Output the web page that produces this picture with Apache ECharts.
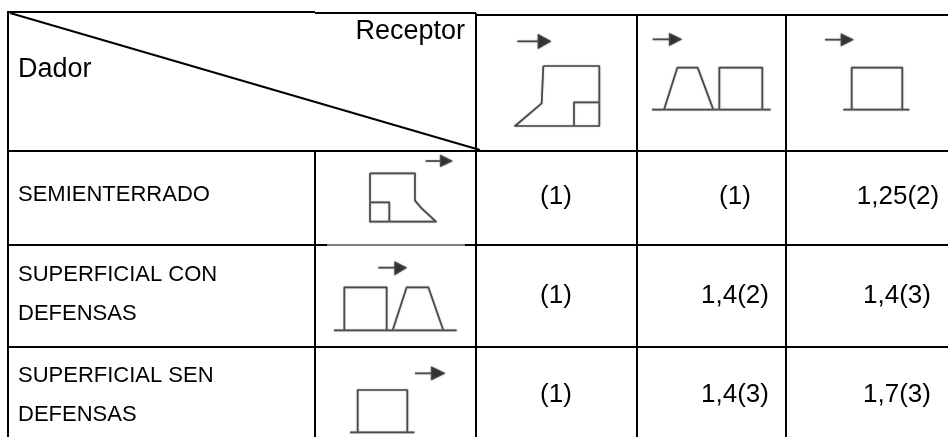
<!DOCTYPE html>
<html>
<head>
<meta charset="utf-8">
<style>
  html, body { margin: 0; padding: 0; background: #fff; }
  #chart { width: 948px; height: 437px; }
</style>
<script src="https://cdn.jsdelivr.net/npm/echarts@6/dist/echarts.min.js"></script>
</head>
<body>
<div id="chart"></div>
<script>
// table contents
const cornerLabels = ['Dador', 'Receptor']
const donors = ['SEMIENTERRADO', 'SUPERFICIAL CON\nDEFENSAS', 'SUPERFICIAL SEN\nDEFENSAS']
const semienterrado = ['(1)', '(1)', '1,25(2)']
const superficialCon = ['(1)', '1,4(2)', '1,4(3)']
const superficialSen = ['(1)', '1,4(3)', '1,7(3)']

// layout, in page pixels
const FONT = '"Liberation Sans", Arial, sans-serif'
const valueX = [[556, 556, 556], [735, 735, 735], [898, 897, 897]]
const rowY = [197, 296, 395]
const labelY = [195, 294, 395]

// icons are traced at 3x, with an offset
const icon = (ox, oy, pts) => pts.map(p => [ox + p[0] / 3, oy + p[1] / 3])
const line = (pts, w) => ({
  type: 'polyline',
  silent: true,
  shape: { points: pts },
  style: { fill: null, stroke: '#000', lineWidth: w, lineJoin: 'round' }
})
const sketch = pts => ({
  type: 'polyline',
  silent: true,
  shape: { points: pts },
  style: { fill: null, stroke: '#4a4a4a', lineWidth: 1.7, lineJoin: 'round', shadowBlur: 1.5, shadowColor: '#999' }
})
const arrow = (ox, oy, x0, x1, y, hx, tip, up, down) => [
  sketch(icon(ox, oy, [[x0, y], [x1, y]])),
  {
    type: 'polygon',
    silent: true,
    shape: { points: icon(ox, oy, [[hx, up], [tip, y], [hx, down]]) },
    style: { fill: '#333', stroke: '#333', lineWidth: 0.5, shadowBlur: 1.5, shadowColor: '#777' }
  }
]

const rules = [
  [[8, 12], [315, 12]], [[315, 13], [476, 13]], [[476, 15], [948, 15]],
  [[8, 11], [8, 437]], [[476, 13], [476, 150]], [[637, 15], [637, 437]], [[786, 15], [786, 437]],
  [[315, 151], [315, 437]], [[476, 151], [476, 437]],
  [[8, 151], [948, 151]], [[8, 245], [327, 245]], [[465, 245], [948, 245]], [[8, 347], [948, 347]],
  [[10, 13], [480, 150]]
].map(p => line(p, 2))
rules.push(line([[327, 245], [465, 245]], 1))

const drawings = [
  // first receptor column
  ...arrow(470, 0, 142, 205, 124, 204, 243, 103, 146),
  sketch(icon(470, 0, [[220, 198], [388, 198], [388, 378], [135, 378], [215, 310], [220, 198]])),
  sketch(icon(470, 0, [[312, 378], [312, 307], [388, 307]])),
  // second receptor column
  ...arrow(470, 0, 548, 600, 118, 598, 635, 100, 137),
  sketch(icon(470, 0, [[546, 329], [902, 329]])),
  sketch(icon(470, 0, [[582, 329], [622, 203], [683, 203], [730, 329]])),
  sketch(icon(470, 0, [[748, 329], [748, 203], [877, 203], [877, 329]])),
  // third receptor column
  ...arrow(470, 0, 1065, 1115, 119, 1113, 1150, 101, 138),
  sketch(icon(470, 0, [[1120, 329], [1318, 329]])),
  sketch(icon(470, 0, [[1145, 329], [1145, 203], [1297, 203], [1297, 329]])),
  // donor rows
  ...arrow(310, 150, 347, 392, 33, 391, 427, 15, 50),
  sketch(icon(310, 150, [[180, 70], [315, 70], [315, 152], [335, 175], [378, 215], [180, 215], [180, 70]])),
  sketch(icon(310, 150, [[180, 157], [238, 157], [238, 215]])),
  ...arrow(310, 150, 205, 255, 353, 254, 290, 335, 375),
  sketch(icon(310, 150, [[72, 541], [440, 541]])),
  sketch(icon(310, 150, [[103, 541], [103, 412], [230, 412], [230, 541]])),
  sketch(icon(310, 150, [[248, 541], [290, 412], [355, 412], [400, 541]])),
  ...arrow(310, 150, 315, 365, 670, 364, 405, 650, 690),
  sketch(icon(310, 150, [[120, 847], [313, 847]])),
  sketch(icon(310, 150, [[143, 847], [143, 720], [292, 720], [292, 847]]))
]

const headText = (text, x, y, align, size) => ({
  type: 'text',
  silent: true,
  style: { text, x, y, align, verticalAlign: 'middle', fill: '#000', font: size + 'px ' + FONT, lineHeight: 39 }
})

const valueRows = [semienterrado, superficialCon, superficialSen]
const cells = []
valueRows.forEach((vals, r) => vals.forEach((v, c) => cells.push([valueX[c][r], rowY[r], v])))

const chart = echarts.init(document.getElementById('chart'), null, { renderer: 'canvas' })
chart.setOption({
  animation: false,
  backgroundColor: '#fff',
  grid: { left: 0, right: 0, top: 0, bottom: 0 },
  xAxis: { type: 'value', min: 0, max: 948, show: false },
  yAxis: { type: 'value', min: 0, max: 437, inverse: true, show: false },
  graphic: [
    ...rules,
    ...drawings,
    headText(cornerLabels[0], 18, 70, 'left', 27),
    headText(cornerLabels[1], 465, 32, 'right', 27),
    ...donors.map((d, i) => headText(d, 18, labelY[i], 'left', 22))
  ],
  series: [{
    type: 'custom',
    coordinateSystem: 'cartesian2d',
    silent: true,
    data: cells,
    renderItem(params, api) {
      const p = api.coord([api.value(0), api.value(1)])
      return {
        type: 'text',
        style: {
          text: cells[params.dataIndex][2],
          x: p[0],
          y: p[1],
          align: 'center',
          verticalAlign: 'middle',
          fill: '#000',
          font: '26px ' + FONT
        }
      }
    }
  }]
})
</script>
</body>
</html>
